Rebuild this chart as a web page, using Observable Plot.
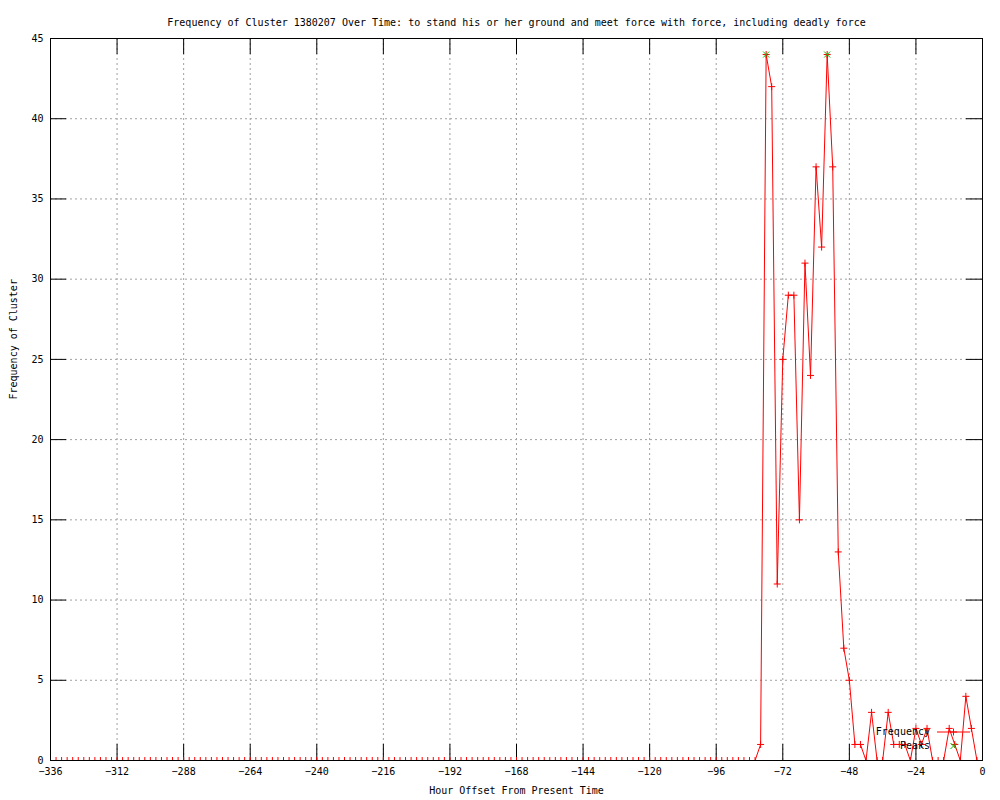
<!DOCTYPE html>
<html><head><meta charset="utf-8">
<script src="https://cdn.jsdelivr.net/npm/d3@7"></script>
<script src="https://cdn.jsdelivr.net/npm/@observablehq/plot@0.6"></script>
<style>body{margin:0;background:#fff}</style>
</head><body><div id="chart"></div>
<script>
const title = "Frequency of Cluster 1380207 Over Time: to stand his or her ground and meet force with force, including deadly force";
const xLabel = "Hour Offset From Present Time";
const yLabel = "Frequency of Cluster";
const legendLabels = ["Frequency", "Peaks"];

const hours = [
  -336,-334,-332,-330,-328,-326,-324,-322,-320,-318,-316,-314,
  -312,-310,-308,-306,-304,-302,-300,-298,-296,-294,-292,-290,
  -288,-286,-284,-282,-280,-278,-276,-274,-272,-270,-268,-266,
  -264,-262,-260,-258,-256,-254,-252,-250,-248,-246,-244,-242,
  -240,-238,-236,-234,-232,-230,-228,-226,-224,-222,-220,-218,
  -216,-214,-212,-210,-208,-206,-204,-202,-200,-198,-196,-194,
  -192,-190,-188,-186,-184,-182,-180,-178,-176,-174,-172,-170,
  -168,-166,-164,-162,-160,-158,-156,-154,-152,-150,-148,-146,
  -144,-142,-140,-138,-136,-134,-132,-130,-128,-126,-124,-122,
  -120,-118,-116,-114,-112,-110,-108,-106,-104,-102,-100,-98,
  -96,-94,-92,-90,-88,-86,-84,-82,-80,-78,-76,-74,
  -72,-70,-68,-66,-64,-62,-60,-58,-56,-54,-52,-50,
  -48,-46,-44,-42,-40,-38,-36,-34,-32,-30,-28,-26,
  -24,-22,-20,-18,-16,-14,-12,-10,-8,-6,-4,-2,
  0
];
const frequency = [
  0,0,0,0,0,0,0,0,0,0,0,0,
  0,0,0,0,0,0,0,0,0,0,0,0,
  0,0,0,0,0,0,0,0,0,0,0,0,
  0,0,0,0,0,0,0,0,0,0,0,0,
  0,0,0,0,0,0,0,0,0,0,0,0,
  0,0,0,0,0,0,0,0,0,0,0,0,
  0,0,0,0,0,0,0,0,0,0,0,0,
  0,0,0,0,0,0,0,0,0,0,0,0,
  0,0,0,0,0,0,0,0,0,0,0,0,
  0,0,0,0,0,0,0,0,0,0,0,0,
  0,0,0,0,0,0,0,0,1,44,42,11,
  25,29,29,15,31,24,37,32,44,37,13,7,
  5,1,1,0,3,0,0,3,1,1,1,0,
  2,1,2,0,0,0,2,1,0,4,2,0,
  0
];
const peakHours = [-78, -56];
const peakValues = [44, 44];
const xTicks = [-336,-312,-288,-264,-240,-216,-192,-168,-144,-120,-96,-72,-48,-24,0];
const yTicks = [0,5,10,15,20,25,30,35,40,45];

const series = hours.map((h, i) => ({h, v: frequency[i]}));
const peaks = peakHours.map((h, i) => ({h, v: peakValues[i]}));

const W = 1000, H = 800, ML = 50, MR = 18, MT = 38, MB = 40;
const PW = W - ML - MR, PH = H - MT - MB;
const TICK = 16;
const RED = "#ff0000", GREEN = "#00c000";
const R_PLUS = 2.4, R_TIMES = 2.83;

function legendMark(index, scales, values, dims) {
  const g = d3.create("svg:g");
  const xr = dims.width - dims.marginRight;
  const yb = dims.height - dims.marginBottom;
  const rows = [
    {label: legendLabels[0], color: RED, line: true, sym: d3.symbolPlus, r: R_PLUS, dy: -28},
    {label: legendLabels[1], color: GREEN, line: false, sym: d3.symbolTimes, r: R_TIMES, dy: -14}
  ];
  for (const r of rows) {
    const y = yb + r.dy;
    g.append("text").attr("x", xr - 52).attr("y", y).attr("text-anchor", "end")
      .attr("dominant-baseline", "middle").attr("fill", "black").text(r.label);
    if (r.line) g.append("line").attr("x1", xr - 45).attr("x2", xr - 12).attr("y1", y).attr("y2", y)
      .attr("stroke", r.color);
    g.append("path").attr("transform", `translate(${xr - 28.5},${y})`)
      .attr("d", d3.symbol(r.sym, r.r * r.r * Math.PI)()).attr("fill", "none").attr("stroke", r.color);
  }
  return g.node();
}

const chart = Plot.plot({
  width: W, height: H,
  marginLeft: ML, marginRight: MR, marginTop: MT, marginBottom: MB,
  style: {fontFamily: "'DejaVu Sans Mono', monospace", fontSize: "10px", background: "white", color: "black"},
  x: {domain: [-336, 0]},
  y: {domain: [0, 45]},
  marks: [
    Plot.gridX(xTicks, {stroke: "#a0a0a0", strokeOpacity: 1, strokeDasharray: "2,3"}),
    Plot.gridY(yTicks, {stroke: "#a0a0a0", strokeOpacity: 1, strokeDasharray: "2,3"}),
    Plot.tickX(xTicks, {x: d => d, insetTop: PH - TICK, stroke: "black"}),
    Plot.tickX(xTicks, {x: d => d, insetBottom: PH - TICK, stroke: "black"}),
    Plot.tickY(yTicks, {y: d => d, insetRight: PW - TICK, stroke: "black"}),
    Plot.tickY(yTicks, {y: d => d, insetLeft: PW - TICK, stroke: "black"}),
    Plot.axisX(xTicks, {tickSize: 0, tickPadding: 7, label: null}),
    Plot.axisY(yTicks, {tickSize: 0, tickPadding: 7, label: null}),
    Plot.line(series, {x: "h", y: "v", stroke: RED, strokeWidth: 1}),
    Plot.dot(series, {x: "h", y: "v", symbol: "plus", r: R_PLUS, stroke: RED, strokeWidth: 1, clip: true}),
    Plot.dot(peaks, {x: "h", y: "v", symbol: "times", r: R_TIMES, stroke: GREEN, strokeWidth: 1}),
    Plot.frame({stroke: "black"}),
    Plot.text([title], {frameAnchor: "top", dy: -20, text: d => d, fill: "black"}),
    Plot.text([xLabel], {frameAnchor: "bottom", dy: 33, text: d => d, fill: "black"}),
    Plot.text([yLabel], {frameAnchor: "left", dx: -37, rotate: -90, text: d => d, fill: "black"}),
    legendMark
  ]
});
document.getElementById("chart").appendChild(chart);
</script>
</body></html>
